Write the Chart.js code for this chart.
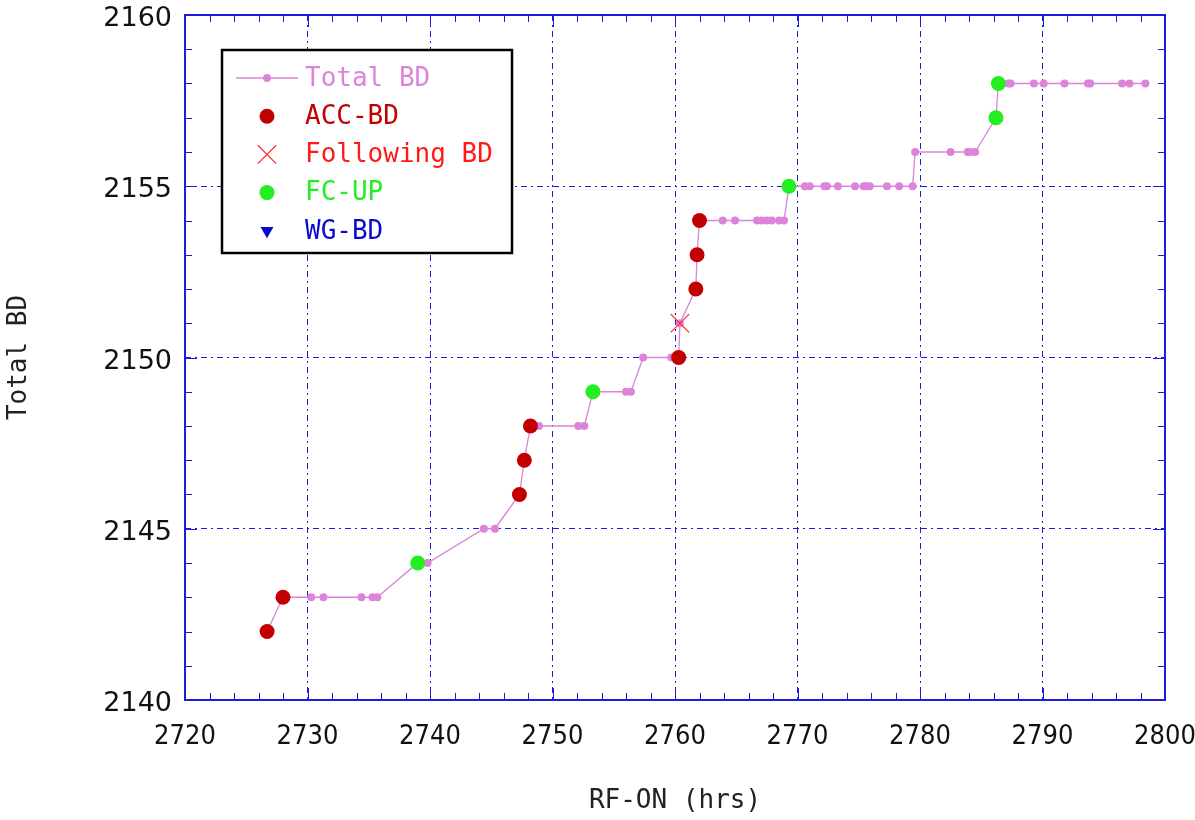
<!DOCTYPE html>
<html>
<head>
<meta charset="utf-8">
<title>Total BD vs RF-ON</title>
<script src="https://cdn.jsdelivr.net/npm/chart.js@4.4.1/dist/chart.umd.min.js"></script>
<style>
  html, body { margin: 0; padding: 0; background: #fff; }
  #wrap { width: 1195px; height: 820px; }
</style>
</head>
<body>
<div id="wrap"><canvas id="myChart" width="1195" height="820"></canvas></div>
<script>
// RF-ON hours and cumulative breakdown count
var rfOn = [2726.7, 2728.0, 2730.3, 2731.3, 2734.4, 2735.3, 2735.7, 2739.0, 2739.8,
  2744.4, 2745.3, 2747.3, 2747.7, 2748.2, 2748.9, 2752.1, 2752.6, 2753.3, 2756.0, 2756.4,
  2757.4, 2759.7, 2760.3, 2760.4, 2761.7, 2761.8, 2762.0, 2763.9, 2764.9, 2766.7, 2767.1,
  2767.5, 2767.9, 2768.5, 2768.9, 2769.3, 2770.6, 2771.0, 2772.2, 2772.4, 2773.3, 2774.7,
  2775.4, 2775.6, 2775.9, 2777.3, 2778.3, 2779.4, 2779.6, 2782.5, 2783.9, 2784.1, 2784.5,
  2786.2, 2786.4, 2787.2, 2787.4, 2789.3, 2790.1, 2791.8, 2793.7, 2793.9, 2796.5, 2797.1, 2798.4];
var totalBd = [2142, 2143, 2143, 2143, 2143, 2143, 2143, 2144, 2144,
  2145, 2145, 2146, 2147, 2148, 2148, 2148, 2148, 2149, 2149, 2149,
  2150, 2150, 2150, 2151, 2152, 2153, 2154, 2154, 2154, 2154, 2154,
  2154, 2154, 2154, 2154, 2155, 2155, 2155, 2155, 2155, 2155, 2155,
  2155, 2155, 2155, 2155, 2155, 2155, 2156, 2156, 2156, 2156, 2156,
  2157, 2158, 2158, 2158, 2158, 2158, 2158, 2158, 2158, 2158, 2158, 2158];

var accX = [2726.7, 2728.0, 2747.3, 2747.7, 2748.2, 2760.3, 2761.7, 2761.8, 2762.0];
var accY = [2142, 2143, 2146, 2147, 2148, 2150, 2152, 2153, 2154];

var followX = [2760.4];
var followY = [2151];

var fcX = [2739.0, 2753.3, 2769.3, 2786.2, 2786.4];
var fcY = [2144, 2149, 2155, 2157, 2158];

var wgX = [];
var wgY = [];

var xTicks = [2720, 2730, 2740, 2750, 2760, 2770, 2780, 2790, 2800];
var yTicks = [2140, 2145, 2150, 2155, 2160];
var xMinorStep = 2;
var yMinorStep = 1;

var axisBlue = '#1c1ce0';
var pink = '#dc84da';

function toXY(xs, ys) {
  return xs.map(function (x, i) { return { x: x, y: ys[i] }; });
}

// frame with inward ticks on all four sides + boxed legend
var framePlugin = {
  id: 'frame',
  afterDatasetsDraw: function (chart) {
    var ctx = chart.ctx, a = chart.chartArea;
    var xs = chart.scales.x, ys = chart.scales.y;
    ctx.save();
    ctx.strokeStyle = axisBlue;
    ctx.lineWidth = 1;
    ctx.beginPath();
    var v, p, len;
    for (v = xs.min; v <= xs.max + 0.001; v += xMinorStep) {
      p = Math.round(xs.getPixelForValue(v)) + 0.5;
      len = xTicks.indexOf(v) >= 0 ? 12 : 7;
      ctx.moveTo(p, a.bottom); ctx.lineTo(p, a.bottom - len);
      ctx.moveTo(p, a.top); ctx.lineTo(p, a.top + len);
    }
    for (v = ys.min; v <= ys.max + 0.001; v += yMinorStep) {
      p = Math.round(ys.getPixelForValue(v)) + 0.5;
      len = yTicks.indexOf(v) >= 0 ? 12 : 7;
      ctx.moveTo(a.left, p); ctx.lineTo(a.left + len, p);
      ctx.moveTo(a.right, p); ctx.lineTo(a.right - len, p);
    }
    ctx.stroke();
    ctx.lineWidth = 2;
    ctx.strokeRect(a.left, a.top, a.right - a.left, a.bottom - a.top);

    // legend box
    var bx = 222, by = 50, bw = 290, bh = 203;
    ctx.fillStyle = '#fff';
    ctx.fillRect(bx, by, bw, bh);
    ctx.strokeStyle = '#000';
    ctx.lineWidth = 2.5;
    ctx.strokeRect(bx, by, bw, bh);
    ctx.font = '26px "DejaVu Sans Mono", "Liberation Mono", monospace';
    ctx.textAlign = 'left';
    ctx.textBaseline = 'middle';
    chart.data.datasets.forEach(function (ds, i) {
      var cy = by + 28 + i * 38.2;
      var mx = bx + 45;
      if (ds.showLine) {
        ctx.strokeStyle = ds.borderColor;
        ctx.lineWidth = ds.borderWidth;
        ctx.beginPath();
        ctx.moveTo(bx + 14, cy); ctx.lineTo(bx + 76, cy);
        ctx.stroke();
      }
      ctx.save();
      ctx.fillStyle = ds.pointBackgroundColor;
      ctx.strokeStyle = ds.pointBorderColor;
      ctx.lineWidth = ds.pointBorderWidth || 1;
      Chart.helpers.drawPoint(ctx, {
        pointStyle: ds.pointStyle,
        radius: ds.legendRadius,
        rotation: ds.pointRotation || 0,
        borderWidth: ds.pointBorderWidth
      }, mx, cy);
      ctx.restore();
      ctx.fillStyle = ds.legendColor;
      ctx.fillText(ds.label, bx + 83, cy + 1);
    });
    ctx.restore();
  }
};

var datasets = [
  {
    label: 'Total BD',
    data: toXY(rfOn, totalBd),
    showLine: true,
    borderColor: pink,
    borderWidth: 1.3,
    backgroundColor: pink,
    pointBackgroundColor: pink,
    pointBorderColor: pink,
    pointBorderWidth: 0,
    pointRadius: 4,
    pointStyle: 'circle',
    legendRadius: 4,
    legendColor: pink,
    order: 10
  },
  {
    label: 'ACC-BD',
    data: toXY(accX, accY),
    showLine: false,
    backgroundColor: '#c20000',
    pointBackgroundColor: '#c20000',
    pointBorderColor: '#c20000',
    pointBorderWidth: 0,
    pointRadius: 7.5,
    pointStyle: 'circle',
    legendRadius: 7.5,
    legendColor: '#c20000',
    order: 1
  },
  {
    label: 'Following BD',
    data: toXY(followX, followY),
    showLine: false,
    backgroundColor: '#ff2a2a',
    pointBackgroundColor: '#ff2a2a',
    pointBorderColor: '#ff2a2a',
    pointBorderWidth: 1.2,
    pointRadius: 13,
    pointStyle: 'crossRot',
    legendRadius: 13,
    legendColor: '#ff1a1a',
    order: 0
  },
  {
    label: 'FC-UP',
    data: toXY(fcX, fcY),
    showLine: false,
    backgroundColor: '#22ee22',
    pointBackgroundColor: '#22ee22',
    pointBorderColor: '#22ee22',
    pointBorderWidth: 0,
    pointRadius: 7.5,
    pointStyle: 'circle',
    legendRadius: 7.5,
    legendColor: '#22ee22',
    order: 1
  },
  {
    label: 'WG-BD',
    data: toXY(wgX, wgY),
    showLine: false,
    backgroundColor: '#0a0ad0',
    pointBackgroundColor: '#0a0ad0',
    pointBorderColor: '#0a0ad0',
    pointBorderWidth: 0,
    pointRadius: 7,
    pointStyle: 'triangle',
    pointRotation: 180,
    legendRadius: 7.5,
    legendColor: '#0a0ad0',
    order: 1
  }
];

var xTickFont = { family: '"DejaVu Sans Condensed", "DejaVu Sans", sans-serif', size: 27 };
var yTickFont = { family: '"DejaVu Sans", sans-serif', size: 27 };
var titleFont = { family: '"DejaVu Sans Mono", "Liberation Mono", monospace', size: 26 };

function plainLabel(v) { return String(v); }

var ctxMain = document.getElementById('myChart');
var myChart = new Chart(ctxMain, {
  type: 'scatter',
  data: { datasets: datasets },
  options: {
    responsive: false,
    animation: false,
    layout: { padding: { top: 15, right: 30, left: 0, bottom: 0 } },
    plugins: {
      legend: { display: false },
      tooltip: { enabled: false }
    },
    scales: {
      x: {
        type: 'linear',
        min: 2720,
        max: 2800,
        afterBuildTicks: function (scale) {
          scale.ticks = xTicks.map(function (v) { return { value: v }; });
        },
        afterFit: function (scale) {
          scale.height = 120;
          scale.paddingLeft = 0;
          scale.paddingRight = 0;
        },
        grid: { color: axisBlue, lineWidth: 1, drawTicks: false },
        border: { display: false, dash: [6, 4, 2, 4] },
        ticks: { font: xTickFont, color: '#111', padding: 21, maxRotation: 0, callback: plainLabel },
        title: { display: true, text: 'RF-ON (hrs)', font: titleFont, color: '#222', padding: { top: 0, bottom: 3 } }
      },
      y: {
        type: 'linear',
        min: 2140,
        max: 2160,
        afterBuildTicks: function (scale) {
          scale.ticks = yTicks.map(function (v) { return { value: v }; });
        },
        afterFit: function (scale) {
          scale.width = 185;
          scale.paddingTop = 0;
          scale.paddingBottom = 0;
        },
        grid: { color: axisBlue, lineWidth: 1, drawTicks: false },
        border: { display: false, dash: [6, 4, 2, 4] },
        ticks: { font: yTickFont, color: '#111', padding: 13, labelOffset: 4, callback: plainLabel },
        title: { display: true, text: 'Total BD', font: titleFont, color: '#222', padding: { top: 4, bottom: 0 } }
      }
    }
  },
  plugins: [framePlugin]
});
</script>
</body>
</html>
